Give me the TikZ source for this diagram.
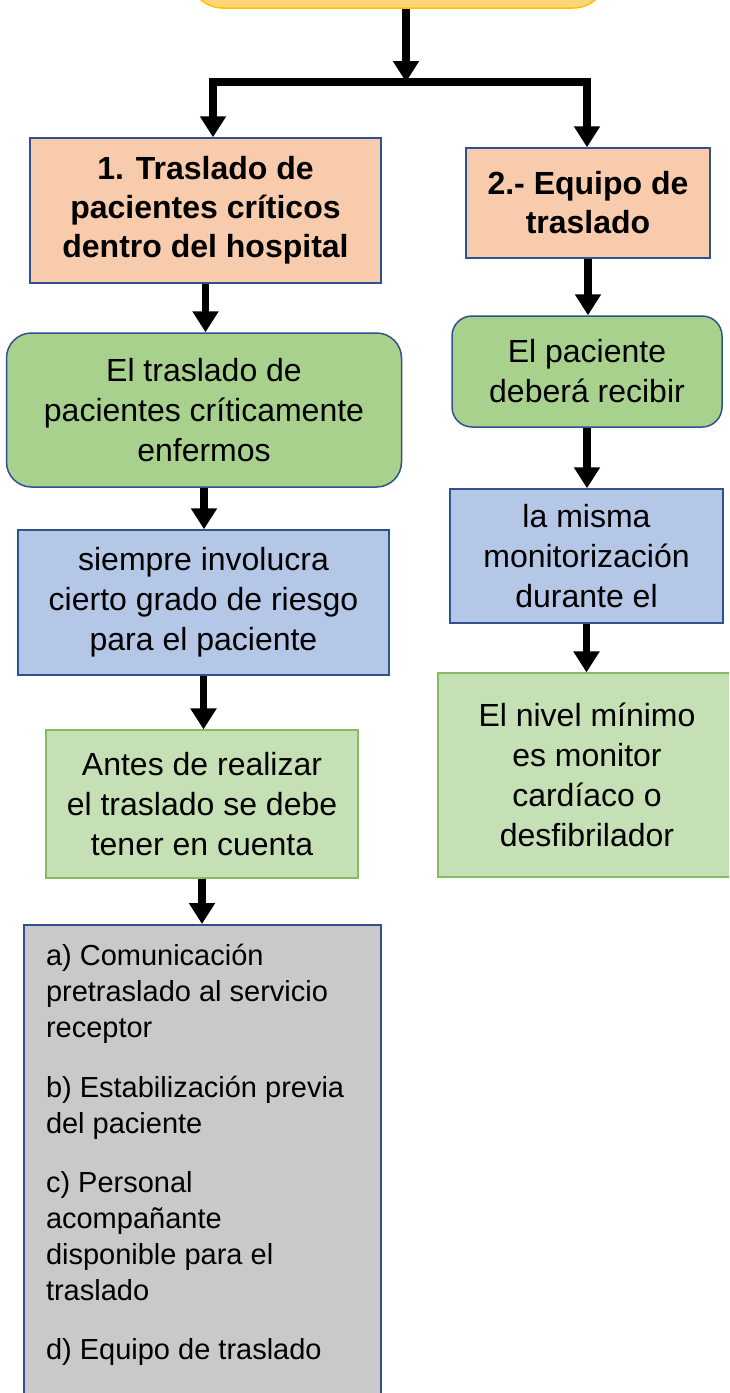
\documentclass[tikz,border=0pt]{standalone}
\usepackage{fontspec}
\setmainfont{Liberation Sans}
\usetikzlibrary{arrows.meta}
\definecolor{edgeblue}{HTML}{2F528F}
\definecolor{goldline}{HTML}{FFC000}
\definecolor{goldfill}{HTML}{FFD57A}
\definecolor{peach}{HTML}{F8CBAD}
\definecolor{leaf}{HTML}{A9D18E}
\definecolor{sky}{HTML}{B4C7E7}
\definecolor{mint}{HTML}{C5E0B4}
\definecolor{mintline}{HTML}{85BB65}
\definecolor{stone}{HTML}{C9C9C9}
\begin{document}
\begin{tikzpicture}[x=1pt,y=-1pt,
      card/.style={draw=edgeblue, line width=1.5pt, align=center, inner sep=0pt,
        font=\fontsize{32}{40}\selectfont},
      title/.style={card, fill=peach, font=\fontsize{32}{39}\selectfont\bfseries},
      pill/.style={card, fill=leaf, rounded corners=#1},
      plain/.style={card, fill=sky},
      note/.style={card, fill=mint, draw=mintline, line width=1.2pt},
      arr/.style={line width=7.5pt, -{Triangle[width=25pt,length=21pt]}}]
      \useasboundingbox (0,0) rectangle (729,1393);
      \clip (0,0) rectangle (729,1393);
      \node[card, draw=goldline, fill=goldfill, rounded corners=34pt,
        minimum width=418pt, minimum height=100pt] (top) at (398,-42) {};
      \coordinate (j) at (406,82);
      \coordinate (jl) at (213,82);
      \coordinate (jr) at (587,82);
      \node[title, minimum width=351pt, minimum height=145pt] (b1) at (205.5,210.5)
        {1. Traslado de\\pacientes críticos\\dentro del hospital};
      \node[title, minimum width=244pt, minimum height=110pt] (b2) at (588,203)
        {2.- Equipo de\\traslado};
      \node[pill=25pt, minimum width=395pt, minimum height=154pt] (g1) at (204,410)
        {El traslado de\\pacientes críticamente\\enfermos};
      \node[pill=20pt, minimum width=270pt, minimum height=111pt] (g2) at (587,371.5)
        {El paciente\\deberá recibir};
      \node[plain, minimum width=371pt, minimum height=145pt] (u1) at (203.5,602.5)
        {siempre involucra\\cierto grado de riesgo\\para el paciente};
      \node[plain, minimum width=273pt, minimum height=134pt] (u2) at (586.5,556)
        {la misma\\monitorización\\durante el};
      \node[note, minimum width=312pt, minimum height=148pt] (l1) at (202,804)
        {Antes de realizar\\el traslado se debe\\tener en cuenta};
      \node[note, minimum width=298pt, minimum height=204pt] (l2) at (587,775)
        {El nivel mínimo\\es monitor\\cardíaco o\\desfibrilador};
      \node[card, fill=stone, anchor=north, inner xsep=22pt, inner ysep=19pt,
        font=\fontsize{29}{36}\selectfont] (gr) at (202.5,924)
        {\parbox[t][480pt][t]{313pt}{\raggedright
          a) Comunicación\\pretraslado al servicio\\receptor\\[24pt]
          b) Estabilización previa\\del paciente\\[23pt]
          c) Personal\\acompañante\\disponible para el\\traslado\\[23pt]
          d) Equipo de traslado}};
      \draw[arr] (top.south -| j) -- (j);
      \draw[line width=7.5pt, line cap=rect] (jl) -- (jr);
      \draw[arr] (jl) -- (jl |- b1.north);
      \draw[arr] (jr) -- (jr |- b2.north);
      \draw[arr] (b1.south) -- (b1.south |- g1.north);
      \draw[arr] (g1.south) -- (g1.south |- u1.north);
      \draw[arr] (u1.south) -- (u1.south |- l1.north);
      \draw[arr] (l1.south) -- (l1.south |- gr.north);
      \draw[arr] (b2.south) -- (b2.south |- g2.north);
      \draw[arr] (g2.south) -- (g2.south |- u2.north);
      \draw[arr] (u2.south) -- (u2.south |- l2.north);
\end{tikzpicture}
\end{document}
